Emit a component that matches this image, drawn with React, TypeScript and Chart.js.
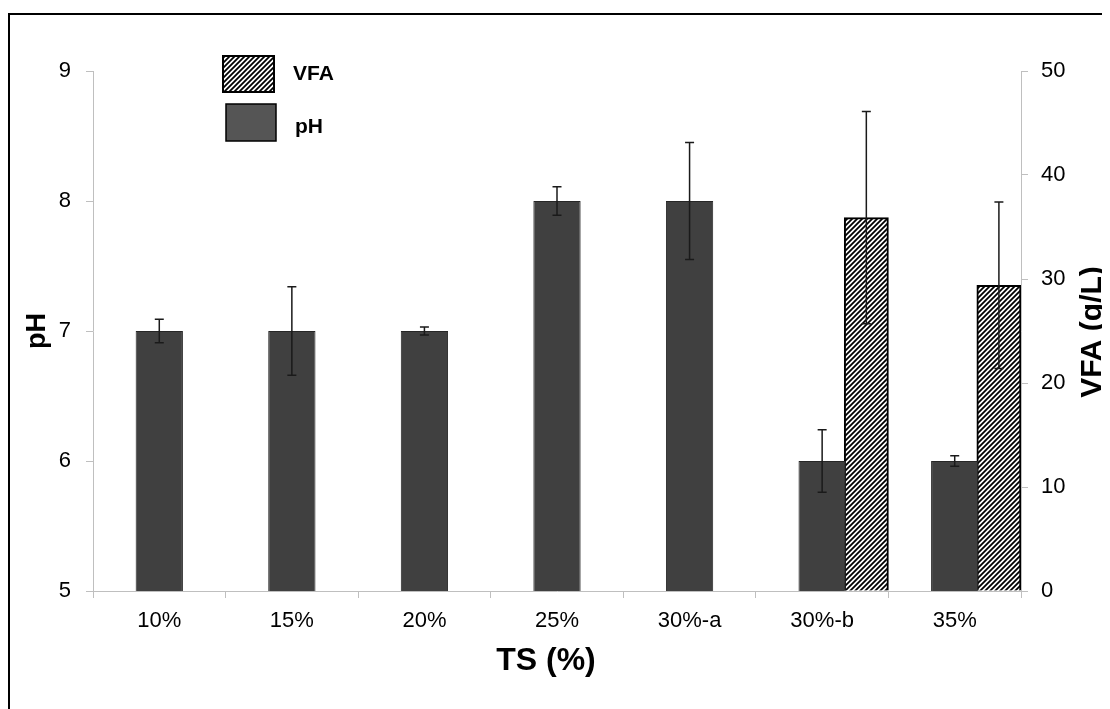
import React, { useEffect, useRef } from "react";
import { Chart, registerables } from "chart.js";

Chart.register(...registerables);

const categories = ["10%", "15%", "20%", "25%", "30%-a", "30%-b", "35%"];
const phValues = [7, 7, 7, 8, 8, 6, 6];
const phErrors = [0.09, 0.34, 0.03, 0.11, 0.45, 0.24, 0.04];
const vfaValues: (number | null)[] = [null, null, null, null, null, 35.9, 29.4];
const vfaErrors: (number | null)[] = [null, null, null, null, null, 10.2, 8.0];
const spacerValues: (number | null)[] = [null, null, null, null, null, null, null];

const phAxis = { min: 5, max: 9, step: 1 };
const vfaAxis = { min: 0, max: 50, step: 10 };

const FONT = "'Liberation Sans', Arial, sans-serif";

function makeHatch(): CanvasPattern | string {
  const s = 5;
  const c = document.createElement("canvas");
  c.width = s;
  c.height = s;
  const g = c.getContext("2d");
  if (!g) return "#fff";
  g.fillStyle = "#fff";
  g.fillRect(0, 0, s, s);
  g.strokeStyle = "#000";
  g.lineWidth = 1.8;
  g.beginPath();
  g.moveTo(0, s);
  g.lineTo(s, 0);
  g.moveTo(-1, 1);
  g.lineTo(1, -1);
  g.moveTo(s - 1, s + 1);
  g.lineTo(s + 1, s - 1);
  g.stroke();
  const p = g.createPattern(c, "repeat");
  return p || "#fff";
}

export default function App() {
  const ref = useRef<HTMLCanvasElement | null>(null);

  useEffect(() => {
    if (!ref.current) return;
    const hatch = makeHatch();

    const errorBars = {
      id: "errorBars",
      afterDatasetsDraw(chart: any) {
        const ctx = chart.ctx;
        const draw = (dsIndex: number, values: (number | null)[], errs: (number | null)[], axis: string) => {
          const meta = chart.getDatasetMeta(dsIndex);
          const scale = chart.scales[axis];
          ctx.save();
          ctx.strokeStyle = "#1a1a1a";
          ctx.lineWidth = 1.5;
          values.forEach((v, i) => {
            const e = errs[i];
            if (v == null || e == null) return;
            const el = meta.data[i];
            if (!el) return;
            const x = el.x;
            const yTop = scale.getPixelForValue(v + e);
            const yBot = scale.getPixelForValue(v - e);
            ctx.beginPath();
            ctx.moveTo(x, yTop);
            ctx.lineTo(x, yBot);
            ctx.moveTo(x - 4.5, yTop);
            ctx.lineTo(x + 4.5, yTop);
            ctx.moveTo(x - 4.5, yBot);
            ctx.lineTo(x + 4.5, yBot);
            ctx.stroke();
          });
          ctx.restore();
        };
        draw(1, phValues, phErrors, "y");
        draw(2, vfaValues, vfaErrors, "y2");
      },
    };

    const decor = {
      id: "decor",
      afterDraw(chart: any) {
        const ctx = chart.ctx;
        ctx.save();
        // outer frame
        ctx.strokeStyle = "#000";
        ctx.lineWidth = 2;
        ctx.strokeRect(1, 6, 3000, 3000);

        // legend
        ctx.fillStyle = hatch as any;
        ctx.fillRect(215, 48, 51, 36);
        ctx.lineWidth = 2;
        ctx.strokeStyle = "#000";
        ctx.strokeRect(215, 48, 51, 36);
        ctx.fillStyle = "#555555";
        ctx.fillRect(218, 96, 50, 37);
        ctx.lineWidth = 1.5;
        ctx.strokeRect(218, 96, 50, 37);

        ctx.fillStyle = "#000";
        ctx.font = `bold 21px ${FONT}`;
        ctx.textAlign = "left";
        ctx.textBaseline = "middle";
        ctx.fillText("VFA", 285, 66);
        ctx.fillText("pH", 287, 119);

        // axis titles
        ctx.font = `bold 32px ${FONT}`;
        ctx.textAlign = "center";
        ctx.fillText("TS (%)", 538, 653);

        ctx.save();
        ctx.translate(30, 323);
        ctx.rotate(-Math.PI / 2);
        ctx.font = `bold 27px ${FONT}`;
        ctx.fillText("pH", 0, 0);
        ctx.restore();

        ctx.save();
        ctx.translate(1093, 324);
        ctx.rotate(-Math.PI / 2);
        ctx.font = `bold 30px ${FONT}`;
        ctx.textBaseline = "alphabetic";
        ctx.fillText("VFA (g/L)", 0, 0);
        ctx.restore();

        ctx.restore();
      },
    };

    const axisColor = "#bfbfbf";

    const chart = new Chart(ref.current, {
      type: "bar",
      data: {
        labels: categories,
        datasets: [
          {
            label: "",
            data: spacerValues as any,
            yAxisID: "y",
            backgroundColor: "rgba(0,0,0,0)",
          },
          {
            label: "pH",
            data: phValues,
            yAxisID: "y",
            backgroundColor: "#404040",
            borderColor: "#262626",
            borderWidth: 1,
            barPercentage: 1.07,
            categoryPercentage: 1,
          },
          {
            label: "VFA",
            data: vfaValues as any,
            yAxisID: "y2",
            backgroundColor: hatch as any,
            borderColor: "#000",
            borderWidth: 2,
            barPercentage: 1,
            categoryPercentage: 1,
          },
        ],
      },
      options: {
        responsive: false,
        maintainAspectRatio: false,
        animation: false,
        layout: { padding: { top: 63, left: 0, right: 0, bottom: 0 } },
        datasets: { bar: { categoryPercentage: 1, barPercentage: 1 } } as any,
        plugins: {
          legend: { display: false },
          tooltip: { enabled: false },
        },
        scales: {
          x: {
            type: "category",
            grid: {
              display: true,
              drawOnChartArea: false,
              drawTicks: true,
              tickLength: 7,
              color: axisColor,
              offset: true,
            },
            border: { display: true, color: axisColor, width: 1 },
            ticks: { color: "#000", font: { family: FONT, size: 22 }, padding: 10, maxRotation: 0 },
            afterFit: (s: any) => {
              s.height = 118;
            },
          },
          y: {
            type: "linear",
            position: "left",
            min: phAxis.min,
            max: phAxis.max,
            ticks: { stepSize: phAxis.step, color: "#000", font: { family: FONT, size: 22 }, padding: 15 },
            grid: { drawOnChartArea: false, tickLength: 7, color: axisColor },
            border: { display: true, color: axisColor, width: 1 },
            afterFit: (s: any) => {
              s.width = 85;
            },
          },
          y2: {
            type: "linear",
            position: "right",
            min: vfaAxis.min,
            max: vfaAxis.max,
            ticks: { stepSize: vfaAxis.step, color: "#000", font: { family: FONT, size: 22 }, padding: 13 },
            grid: { drawOnChartArea: false, tickLength: 7, color: axisColor },
            border: { display: true, color: axisColor, width: 1 },
            afterFit: (s: any) => {
              s.width = 89;
            },
          },
        },
      },
      plugins: [errorBars, decor],
    });

    return () => chart.destroy();
  }, []);

  return (
    <div style={{ width: 1102, height: 701 }}>
      <canvas ref={ref} width={1102} height={701} style={{ display: "block", width: 1102, height: 701 }} />
    </div>
  );
}
